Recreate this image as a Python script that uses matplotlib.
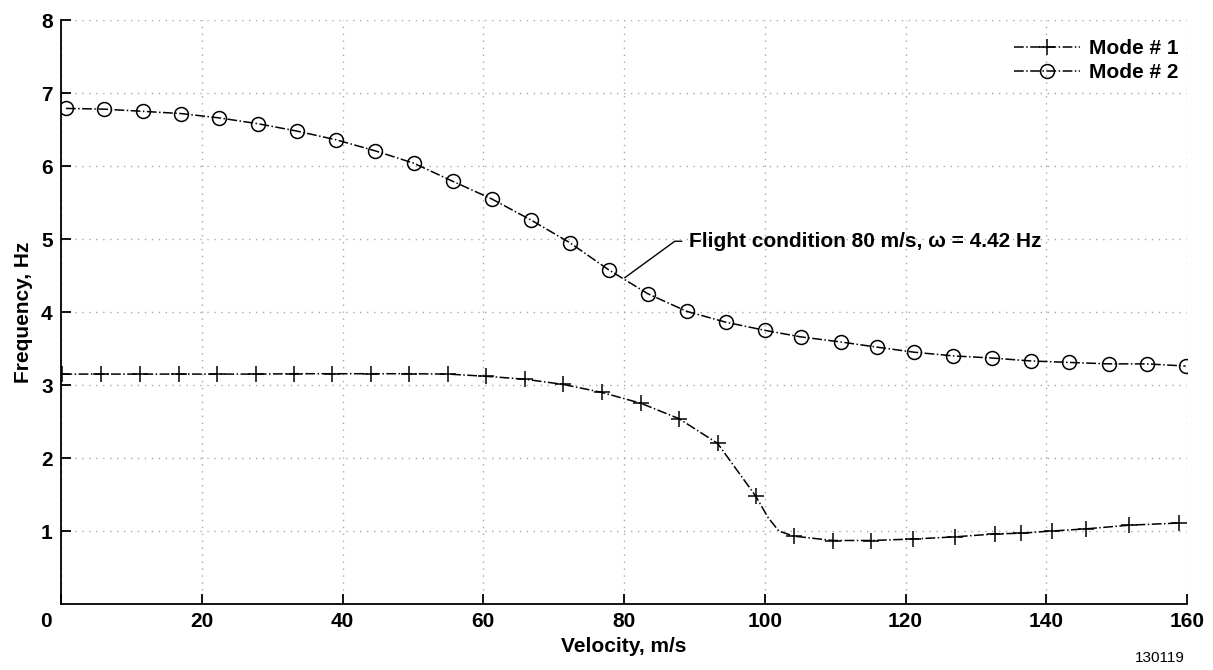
import matplotlib.pyplot as plt
import matplotlib.transforms as mtransforms
import numpy as np

plt.rcParams['font.family'] = ['Liberation Sans', 'DejaVu Sans']
plt.rcParams['font.weight'] = 'bold'

# Mode 1 (plus markers)
v1 = [0.2, 5.7, 11.2, 16.8, 22.2, 27.7, 33.1, 38.5, 44.0, 49.4, 55.0, 60.4,
      65.9, 71.3, 76.8, 82.4, 87.8, 93.3, 98.7, 104.1, 109.7, 115.1, 121.0,
      127.0, 132.7, 136.4, 140.8, 145.7, 151.8, 158.9]
f1 = [3.15, 3.15, 3.15, 3.15, 3.15, 3.15, 3.155, 3.155, 3.155, 3.155, 3.15, 3.12,
      3.08, 3.01, 2.90, 2.75, 2.54, 2.20, 1.48, 0.93, 0.87, 0.87, 0.89,
      0.92, 0.96, 0.97, 1.00, 1.03, 1.08, 1.11]
# extra points at the knee near 100 m/s
knee_v = [100.5, 102.0]
knee_f = [1.18, 1.00]

# Mode 2 (circle markers)
v2 = [0.7, 6.1, 11.6, 17.0, 22.5, 28.0, 33.5, 39.1, 44.6, 50.1, 55.7, 61.2,
      66.8, 72.3, 77.8, 83.4, 88.9, 94.5, 100.0, 105.1, 110.8, 115.9, 121.2,
      126.7, 132.3, 137.8, 143.2, 148.9, 154.3, 159.8]
f2 = [6.79, 6.78, 6.75, 6.72, 6.66, 6.58, 6.48, 6.36, 6.21, 6.04, 5.79, 5.55,
      5.26, 4.95, 4.58, 4.25, 4.01, 3.86, 3.75, 3.66, 3.59, 3.52, 3.45,
      3.40, 3.37, 3.33, 3.31, 3.29, 3.29, 3.26]

line_v1 = np.array(v1 + knee_v)
line_f1 = np.array(f1 + knee_f)
order = np.argsort(line_v1)
line_v1 = line_v1[order]
line_f1 = line_f1[order]

fig = plt.figure(figsize=(12.13, 6.70), dpi=100)
ax = fig.add_axes([0.0503, 0.0985, 0.9283, 0.8715])

ax.plot(line_v1, line_f1, color='black', linestyle='-.', linewidth=1.1)
ax.plot(v1, f1, color='black', linestyle='none', marker='+', markersize=11,
        markeredgewidth=1.1)
ax.plot(v2, f2, color='black', linestyle='-.', linewidth=1.1, marker='o',
        markersize=10, fillstyle='none', markeredgewidth=1.1)

# legend handles
h1, = ax.plot([], [], color='black', linestyle='-.', linewidth=1.1, marker='+',
              markersize=11, markeredgewidth=1.1)
h2, = ax.plot([], [], color='black', linestyle='-.', linewidth=1.1, marker='o',
              markersize=10, fillstyle='none', markeredgewidth=1.1)
ax.legend([h1, h2], ['Mode # 1', 'Mode # 2'], loc='upper right', frameon=False,
          fontsize=15, handlelength=3.2, handletextpad=0.4, labelspacing=0.25,
          borderaxespad=0.5, bbox_to_anchor=(1.009, 1.0))

ax.annotate('Flight condition 80 m/s, ω = 4.42 Hz', xy=(80.1, 4.47),
            xytext=(89.2, 4.97), fontsize=15, va='center', ha='left',
            arrowprops=dict(arrowstyle='-', color='black', linewidth=1.0,
                            relpos=(0, 0.5), shrinkA=3, shrinkB=0,
                            connectionstyle='arc,angleA=180,armA=14,angleB=0,armB=0,rad=0'))

ax.set_xlim(0, 160)
ax.set_ylim(0, 8)
ax.set_xticks(np.arange(0, 161, 20))
ax.set_yticks(np.arange(1, 9, 1))
ax.tick_params(direction='in', length=7, width=1.3, labelsize=15, pad=6)
for lab in ax.get_xticklabels()[:1]:
    lab.set_transform(lab.get_transform() +
                      mtransforms.ScaledTranslation(-0.15, 0, fig.dpi_scale_trans))

ax.grid(True, linestyle=(0, (1, 4)), color='#a8a8a8', linewidth=1.0)
ax.spines['top'].set_visible(False)
ax.spines['right'].set_visible(False)
ax.spines['left'].set_linewidth(1.3)
ax.spines['bottom'].set_linewidth(1.3)

ax.set_xlabel('Velocity, m/s', fontsize=15, fontweight='bold', labelpad=4)
ax.set_ylabel('Frequency, Hz', fontsize=15, fontweight='bold', labelpad=6)

fig.text(0.977, 0.008, '130119', fontsize=11, fontweight='normal', ha='right',
         va='bottom')

fig.savefig('out.png', dpi=100)
